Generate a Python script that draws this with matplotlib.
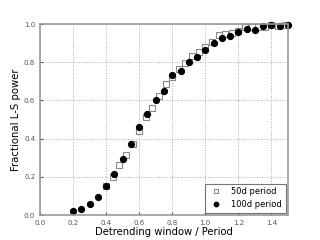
import matplotlib
matplotlib.use('Agg')
import matplotlib.pyplot as plt
import numpy as np

# 50d period (open squares)
win_50 = [0.40, 0.44, 0.48, 0.52, 0.56, 0.60, 0.64, 0.68, 0.72, 0.76,
          0.80, 0.84, 0.88, 0.92, 0.96, 1.00, 1.04, 1.08, 1.12, 1.16,
          1.20, 1.24, 1.28, 1.32, 1.36, 1.40, 1.44, 1.48]
pow_50 = [0.150, 0.197, 0.260, 0.314, 0.370, 0.440, 0.511, 0.562, 0.623, 0.686,
          0.721, 0.766, 0.797, 0.832, 0.853, 0.881, 0.906, 0.944, 0.949, 0.951,
          0.965, 0.983, 0.983, 0.982, 0.985, 0.993, 0.991, 0.993]

# 100d period (filled circles)
win_100 = [0.20, 0.25, 0.30, 0.35, 0.40, 0.45, 0.50, 0.55, 0.60, 0.65,
           0.70, 0.75, 0.80, 0.85, 0.90, 0.95, 1.00, 1.05, 1.10, 1.15,
           1.20, 1.25, 1.30, 1.35, 1.40, 1.45, 1.50]
pow_100 = [0.021, 0.030, 0.059, 0.096, 0.153, 0.215, 0.295, 0.372, 0.462, 0.529,
           0.600, 0.647, 0.733, 0.755, 0.803, 0.829, 0.864, 0.902, 0.927, 0.939,
           0.958, 0.974, 0.969, 0.990, 0.996, 0.991, 0.993]

fig = plt.figure(figsize=(3.2, 2.4), dpi=100)
ax = fig.add_axes([40/320, 1-215/240, 248/320, 191/240])

ax.plot(win_50, pow_50, 's', mfc='none', mec='#888888', ms=4.2, mew=0.8,
        label='50d period', clip_on=False)
ax.plot(win_100, pow_100, 'o', color='black', ms=4.2, label='100d period',
        clip_on=False)

ax.set_xlim(0, 1.5)
ax.set_ylim(0, 1.0)
ax.set_xticks(np.arange(0, 1.41, 0.2))
ax.set_yticks(np.arange(0, 1.01, 0.2))
ax.grid(True, color='#aaaaaa', ls=':', lw=0.7)
ax.tick_params(labelsize=5, colors='#555555', direction='in', length=2)
for s in ax.spines.values():
    s.set_color('#999999')
    s.set_linewidth(1.2)

ax.set_xlabel('Detrending window / Period', fontsize=7.2, labelpad=1)
ax.set_ylabel('Fractional L-S power', fontsize=7.3, labelpad=2)

leg = ax.legend(loc='lower right', fontsize=6, numpoints=1, fancybox=False,
                markerscale=0.75, borderaxespad=0.3, handletextpad=0.8,
                borderpad=0.4)
leg.get_frame().set_edgecolor('#555555')
leg.get_frame().set_linewidth(0.8)

fig.savefig('out.png', dpi=100)
